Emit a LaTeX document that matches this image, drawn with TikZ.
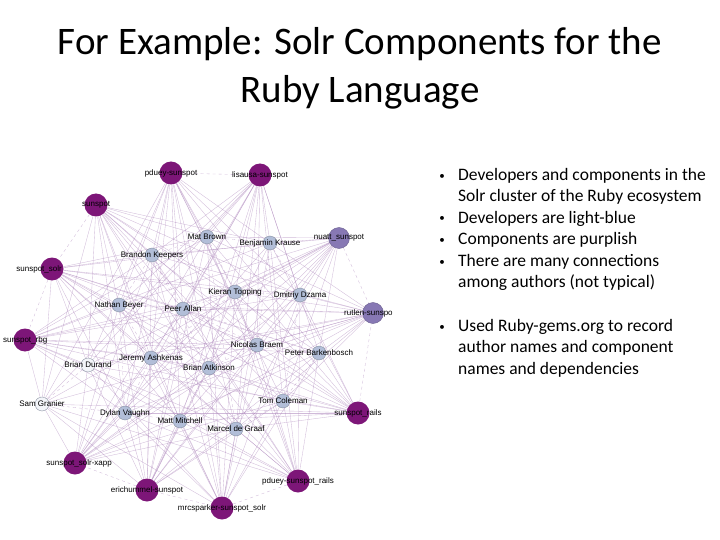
\documentclass[tikz,border=0pt]{standalone}
\usepackage{fontspec}
\setmainfont{Carlito}
\newfontfamily\graphfont{Liberation Sans}
\usetikzlibrary{backgrounds}
\definecolor{comp}{RGB}{125,22,120}
\definecolor{compl}{RGB}{135,120,180}
\definecolor{auth}{RGB}{178,190,216}
\definecolor{edgec}{RGB}{170,130,185}

\begin{document}
\begin{tikzpicture}[x=1pt,y=-1pt,
	comp/.style={circle,fill=comp,minimum size=23pt,inner sep=0pt},
	compl/.style={circle,fill=compl,draw=compl!80!black,minimum size=21pt,inner sep=0pt},
	auth/.style={circle,fill=auth,draw=auth!70!black,line width=0.3pt,minimum size=14pt,inner sep=0pt},
	pale/.style={auth,fill=white!85!auth},
	lbl/.style={font=\graphfont\fontsize{8}{9}\selectfont,inner sep=0pt},
	link/.style={draw=edgec,line width=0.35pt,opacity=0.55}]
	\useasboundingbox (0,0) rectangle (720,540);
	% title
	\node[font=\fontsize{39}{48}\selectfont,align=center] (title) at (360,68)
		{For Example: Solr Components for the\\Ruby Language};
	% components
	\node[comp] (pd)  at (171,173) {};
	\node[comp] (li)  at (260,175) {};
	\node[comp] (ss)  at (96,205)  {};
	\node[comp] (so)  at (52,269)  {};
	\node[comp] (rb)  at (25,340)  {};
	\node[comp] (ra)  at (358,413) {};
	\node[comp] (pr)  at (298,481) {};
	\node[comp] (mc)  at (222,508) {};
	\node[comp] (eh)  at (147,490) {};
	\node[comp] (xa)  at (75,463)  {};
	\node[compl] (nu) at (339,238) {};
	\node[compl] (ru) at (373,313) {};
	% authors
	\node[auth] (mb) at (207,237) {};
	\node[auth] (bk) at (270,243) {};
	\node[auth] (bp) at (152,255) {};
	\node[auth] (kt) at (235,292) {};
	\node[auth] (dd) at (300,295) {};
	\node[auth] (nb) at (119,305) {};
	\node[auth] (pa) at (183,309) {};
	\node[auth] (nc) at (257,345) {};
	\node[auth] (pb) at (319,353) {};
	\node[auth] (ja) at (151,358) {};
	\node[auth] (ba) at (209,368) {};
	\node[pale] (bd) at (88,365)  {};
	\node[pale] (sg) at (42,404)  {};
	\node[auth] (tc) at (283,401) {};
	\node[auth] (dv) at (125,413) {};
	\node[auth] (mm) at (180,421) {};
	\node[auth] (mg) at (236,429) {};
	% labels
	\foreach \n/\t in {pd/pduey-sunspot, li/lisausa-sunspot, nu/nuatt\_sunspot,
		mb/Mat Brown, bk/Benjamin Krause, bp/Brandon Keepers, kt/Kieran Topping,
		dd/Dmitriy Dzama, nb/Nathan Beyer, pa/Peer Allan, nc/Nicolas Braem,
		pb/Peter Barkenbosch, ja/Jeremy Ashkenas, ba/Brian Atkinson,
		bd/Brian Durand, tc/Tom Coleman, dv/Dylan Vaughn, mm/Matt Mitchell,
		mg/Marcel de Graaf, ra/sunspot\_rails, pr/pduey-sunspot\_rails,
		mc/mrcsparker-sunspot\_solr, eh/erichummel-sunspot, sg/Sam Granier}
		\node[lbl] at (\n) {\t};
	\node[lbl,anchor=west] at ([xshift=-14pt]ss.center) {sunspot};
	\node[lbl,anchor=east] at ([xshift=10pt]so.center) {sunspot\_solr};
	\node[lbl,anchor=west] at (3,340) {sunspot\_rbg};
	\node[lbl,anchor=east] at ([xshift=37pt]xa.center) {sunspot\_solr-xapp};
	\node[lbl,anchor=west] at ([xshift=-29pt]ru.center) {rutlen-sunspo};
	% connectors
	\begin{scope}[on background layer]
		\foreach \a in {mb,bk,bp,kt,dd,nb,pa,nc,pb,ja,ba,bd,sg,tc,dv,mm,mg}
			\foreach \c in {pd,li,ss,so,rb,ra,pr,mc,eh,xa,nu,ru}
				\draw[link] (\a) -- (\c);
		\foreach \a/\b in {mb/bk,mb/bp,mb/kt,bk/dd,bp/nb,bp/pa,kt/dd,kt/pa,
			nb/pa,nb/ja,pa/nc,nc/pb,nc/ba,ja/ba,ja/bd,bd/sg,tc/pb,tc/mg,
			dv/mm,mm/mg,dv/ja,ba/mm,pa/pb,bk/nc,mb/mg,bp/ba,dd/tc,kt/ja,
			nb/dv,sg/dv,pd/li,ss/so,so/rb,ra/ru,nu/ru,pr/mc,mc/eh,eh/xa}
			\draw[link,dashed] (\a) -- (\b);
	\end{scope}
	% bullets
	\node[anchor=north west,align=left,font=\fontsize{17.5}{21.5}\selectfont,inner sep=0pt]
		(notes) at (458,168)
		{Developers and components in the\\Solr cluster of the Ruby ecosystem\\
		Developers are light-blue\\Components are purplish\\
		There are many connections\\among authors (not typical)};
	\node[anchor=north west,align=left,font=\fontsize{17.5}{21.5}\selectfont,inner sep=0pt]
		(gems) at (458,319)
		{Used Ruby-gems.org to record\\author names and component\\names and dependencies};
	\foreach \y in {177,219,241,263,328}
		\node[font=\fontsize{11}{13}\selectfont] at (442,\y) {•};
\end{tikzpicture}
\end{document}
